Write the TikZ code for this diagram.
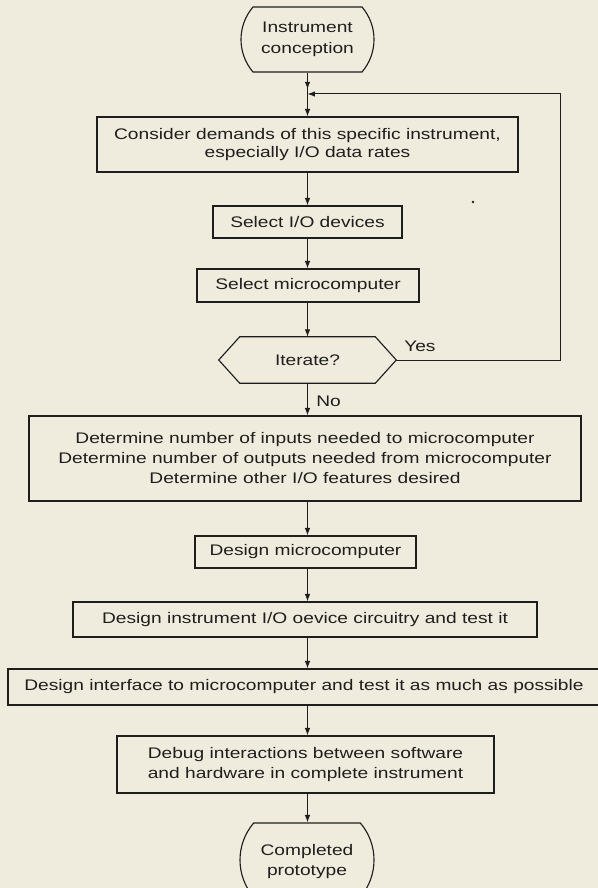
\documentclass[tikz,border=0pt]{standalone}
\usepackage{fontspec}
\setmainfont{Liberation Sans}[FakeStretch=1.25]
\usetikzlibrary{arrows.meta,shapes.misc,calc,decorations.markings}
\newdimen\pxu \pxu=0.75pt
\definecolor{paper}{RGB}{240,236,221}
\definecolor{ink}{RGB}{30,30,30}
\begin{document}
\begin{tikzpicture}[x=0.75pt,y=-0.75pt,
  txt/.style={text=ink, font=\fontsize{11.5}{15}\selectfont},
  box/.style={txt, draw=ink, line width=0.85pt, rectangle, inner sep=0pt, align=center},
  term/.style={txt, draw=ink, line width=0.85pt, rounded rectangle, rounded rectangle arc length=81, inner sep=0pt, align=center},
  arr/.style={draw=ink, line width=0.75pt, -{Latex[length=5.6pt,width=4.2pt]}},
  midarr/.style={postaction={decorate}, decoration={markings, mark=at position #1 with {\arrow{Latex[length=5.6pt,width=4.2pt]}}}},
  lbl/.style={txt, inner sep=0pt}]
\fill[paper] (0,0) rectangle (598,888);
\useasboundingbox (0,0) rectangle (598,888);
\clip (0,0) rectangle (598,888);

\node[term, minimum width=133\pxu, minimum height=65\pxu, font=\fontsize{11.5}{16}\selectfont] (t1) at (307.5,39.5) {Instrument\\conception};
\node[box, minimum width=421\pxu, minimum height=55\pxu, font=\fontsize{11.5}{13}\selectfont] (b1) at (307.5,144.5) {Consider demands of this specific instrument,\\especially I/O data rates};
\node[box, minimum width=189\pxu, minimum height=32\pxu] (b2) at (307.5,222) {Select I/O devices};
\node[box, minimum width=222\pxu, minimum height=33\pxu] (b3) at (308,285.5) {Select microcomputer};
\node[txt, minimum width=177\pxu, minimum height=46\pxu, inner sep=0pt] (it) at (307.5,360) {Iterate?};
\draw[ink, line width=0.85pt] (it.west) -- ($(it.north west)+(21,0)$) -- ($(it.north east)+(-21,0)$) -- (it.east)
  -- ($(it.south east)+(-21,0)$) -- ($(it.south west)+(21,0)$) -- cycle;
\node[box, minimum width=552\pxu, minimum height=85\pxu] (b4) at (305,458.5) {Determine number of inputs needed to microcomputer\\Determine number of outputs needed from microcomputer\\Determine other I/O features desired};
\node[box, minimum width=221\pxu, minimum height=32\pxu] (b5) at (305.5,552) {Design microcomputer};
\node[box, minimum width=464\pxu, minimum height=35\pxu] (b6) at (305,619.5) {Design instrument I/O oevice circuitry and test it};
\node[box, minimum width=592\pxu, minimum height=36\pxu] (b7) at (304,687) {Design interface to microcomputer and test it as much as possible};
\node[box, minimum width=377\pxu, minimum height=57\pxu] (b8) at (305.5,764.5) {Debug interactions between software\\and hardware in complete instrument};
\node[term, minimum width=134\pxu, minimum height=74\pxu, text depth=0pt] (t2) at (307,860) {Completed\\prototype};

\node[lbl, anchor=west] (yes) at (404,346) {Yes};
\node[lbl, anchor=west] (no) at (316,401) {No};

\coordinate (fbr) at (560,360);
\coordinate (fbt) at (560,94);

\draw[arr, midarr=0.38] (t1.south) -- (b1.north);
\draw[arr] (it.east) -- (fbr) -- (fbt) -- (fbt -| t1);
\draw[arr] (b1.south -| t1) -- (b2.north -| t1);
\draw[arr] (b2.south -| t1) -- (b3.north -| t1);
\draw[arr] (b3.south -| t1) -- (it.north -| t1);
\draw[arr] (it.south -| t1) -- (b4.north -| t1);
\draw[arr] (b4.south -| t1) -- (b5.north -| t1);
\draw[arr] (b5.south -| t1) -- (b6.north -| t1);
\draw[arr] (b6.south -| t1) -- (b7.north -| t1);
\draw[arr] (b7.south -| t1) -- (b8.north -| t1);
\draw[arr] (b8.south -| t1) -- (t2.north -| t1);

\fill[ink] (473,202) circle[radius=1pt];
\end{tikzpicture}
\end{document}
